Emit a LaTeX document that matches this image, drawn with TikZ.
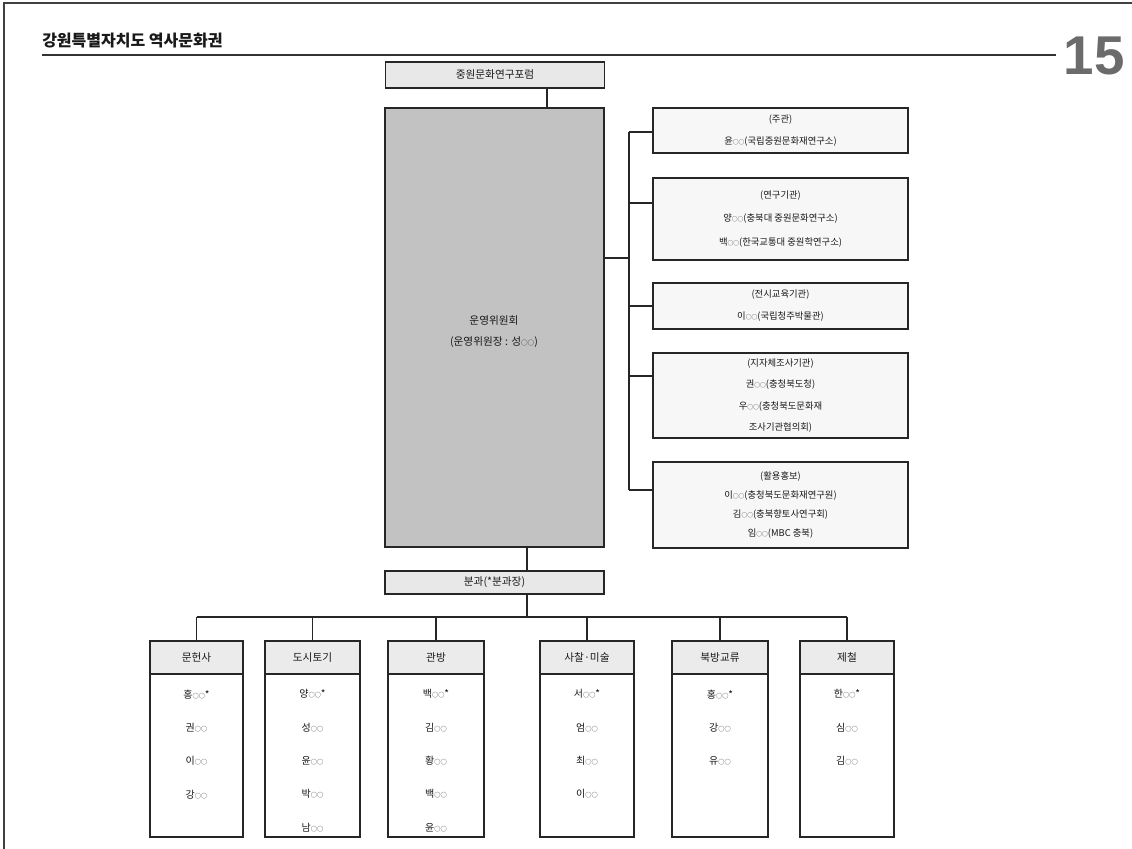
\documentclass[tikz,border=0pt]{standalone}
\usepackage{fontspec}
\usepackage{graphicx}
\setmainfont{Noto Sans CJK KR}
\newfontfamily\numfont{Liberation Sans}
\newcommand\oc{\scalebox{0.62}{○}}
\usetikzlibrary{calc}

\begin{document}
\begin{tikzpicture}[x=0.75pt,y=-0.75pt,
  ink/.style={draw=black!85,line width=0.9pt},
  boxbase/.style={ink,rectangle,inner sep=0pt,align=center,text=black!90},
  graybar/.style={boxbase,fill=black!9,minimum width=164.25pt,font=\fontsize{8}{10}\selectfont},
  infobox/.style={boxbase,fill=black!3,minimum width=191.25pt},
  colhead/.style={boxbase,fill=black!8,minimum height=24.75pt,font=\fontsize{8}{10}\selectfont},
  colbody/.style={boxbase,fill=white,minimum height=122.25pt},
  namelist/.style={inner sep=0pt,anchor=north,align=center,text=black!90,font=\fontsize{7.5}{25}\selectfont}
]
\useasboundingbox (0,0) rectangle (1132,849);

% page frame and running head
\draw[black!75,line width=0.8pt] (4,849) -- (4,3) -- (1132,3);
\node[anchor=west,inner sep=0pt,font=\fontsize{12}{14}\selectfont\bfseries,text=black!90] (title) at (42,41) {강원특별자치도 역사문화권};
\coordinate (ruleend) at (1056,55);
\draw[black!80,line width=0.8pt] (title.west |- ruleend) -- (ruleend);
\node[inner sep=0pt,font=\numfont\fontsize{41}{41}\selectfont\bfseries,text=black!58] (pageno) at (1094,56) {15};

% forum and steering committee
\node[graybar,minimum height=19.5pt] (forum) at (495,75) {중원문화연구포럼};
\node[boxbase,fill=black!24,minimum width=164.25pt,minimum height=329.25pt] (committee) at (494.5,327.5) {};
\node[inner sep=0pt,align=center,text=black!90,font=\fontsize{8}{15.75}\selectfont] (committeetext) at (494,332) {운영위원회\\(운영위원장 : 성\oc\oc)};
\coordinate (topjoin) at (547,0);
\draw[ink] (forum.south -| topjoin) -- (committee.north -| topjoin);

% member institutions
\node[infobox,minimum height=33.75pt,font=\fontsize{7}{16.5}\selectfont] (r1) at (780.5,130.5)
  {(주관)\\윤\oc\oc(국립중원문화재연구소)};
\node[infobox,minimum height=61.5pt,font=\fontsize{7}{17.5}\selectfont] (r2) at (780.5,219)
  {(연구기관)\\양\oc\oc(충북대 중원문화연구소)\\백\oc\oc(한국교통대 중원학연구소)};
\node[infobox,minimum height=34.5pt,font=\fontsize{7}{16.5}\selectfont] (r3) at (780.5,306)
  {(전시교육기관)\\이\oc\oc(국립청주박물관)};
\node[infobox,minimum height=63.75pt,font=\fontsize{7}{16.2}\selectfont] (r4) at (780.5,395.5)
  {(지자체조사기관)\\권\oc\oc(충청북도청)\\우\oc\oc(충청북도문화재\\조사기관협의회)};
\node[infobox,minimum height=64.5pt,font=\fontsize{7}{14.3}\selectfont] (r5) at (780.5,505)
  {(활용홍보)\\이\oc\oc(충청북도문화재연구원)\\김\oc\oc(충북향토사연구회)\\임\oc\oc(MBC 충북)};

\coordinate (spine) at (629,258);
\coordinate (j1) at (629,132);
\coordinate (j2) at (629,203);
\coordinate (j3) at (629,306);
\coordinate (j4) at (629,376);
\coordinate (j5) at (629,490);
\draw[ink] (committee.east |- spine) -- (spine);
\draw[ink] (j1) -- (j5);
\draw[ink] (j1) -- (j1 -| r1.west);
\draw[ink] (j2) -- (j2 -| r2.west);
\draw[ink] (j3) -- (j3 -| r3.west);
\draw[ink] (j4) -- (j4 -| r4.west);
\draw[ink] (j5) -- (j5 -| r5.west);

% subcommittees
\node[graybar,minimum height=17.25pt] (subs) at (494.5,582.5) {분과(*분과장)};
\coordinate (bus) at (527,617);
\draw[ink] (committee.south -| bus) -- (subs.north -| bus);
\draw[ink] (subs.south -| bus) -- (bus);

\foreach \i/\cx/\w/\head/\names in {
  1/196.5/69.75/문헌사/{홍\oc\oc*\\권\oc\oc\\이\oc\oc\\강\oc\oc},
  2/312.5/71.25/도시토기/{양\oc\oc*\\성\oc\oc\\윤\oc\oc\\박\oc\oc\\남\oc\oc},
  3/436/72/관방/{백\oc\oc*\\김\oc\oc\\황\oc\oc\\백\oc\oc\\윤\oc\oc},
  4/587/70.5/사찰·미술/{서\oc\oc*\\엄\oc\oc\\최\oc\oc\\이\oc\oc},
  5/720/72/북방교류/{홍\oc\oc*\\강\oc\oc\\유\oc\oc},
  6/847/70.5/제철/{한\oc\oc*\\심\oc\oc\\김\oc\oc}} {
  \node[colhead,minimum width=\w pt] (h\i) at (\cx,657.5) {\head};
  \node[colbody,minimum width=\w pt] (b\i) at (\cx,755.5) {};
  \node[namelist] (n\i) at ($(b\i.north)+(0,16)$) {\names};
  \draw[ink] (h\i.north |- bus) -- (h\i.north);
}
\draw[ink] (h1.north |- bus) -- (h6.north |- bus);
\end{tikzpicture}
\end{document}
